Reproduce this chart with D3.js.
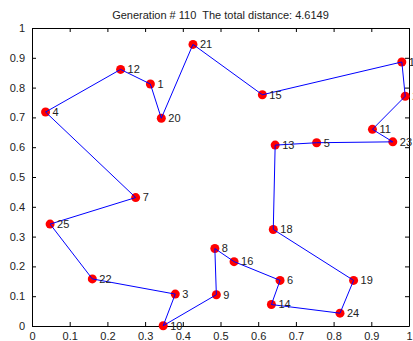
<!DOCTYPE html>
<html>
<head>
<meta charset="utf-8">
<script src="https://cdn.jsdelivr.net/npm/d3@7"></script>
<style>
  body { margin: 0; background: #fff; }
  svg { display: block; font-family: "Liberation Sans", Arial, sans-serif; }
</style>
</head>
<body>
<div id="chart"></div>
<script>
// city coordinates, index = city number - 1
const cityIds = d3.range(1, 26);
const cityX = [0.314, 0.990, 0.380, 0.036, 0.755, 0.658, 0.275, 0.485, 0.489, 0.348,
               0.903, 0.235, 0.645, 0.635, 0.611, 0.536, 0.981, 0.640, 0.853, 0.343,
               0.427, 0.160, 0.957, 0.817, 0.048];
const cityY = [0.812, 0.771, 0.107, 0.718, 0.615, 0.153, 0.431, 0.260, 0.105, 0.001,
               0.660, 0.861, 0.607, 0.072, 0.776, 0.216, 0.886, 0.324, 0.153, 0.697,
               0.945, 0.158, 0.618, 0.043, 0.342];
// visiting order of the best tour
const tour = [4, 12, 1, 20, 21, 15, 17, 2, 11, 23, 5, 13, 18, 19, 24, 14, 6, 16, 8, 9, 10, 3, 22, 25, 7, 4];
const ticks = d3.range(0, 11).map(i => i / 10);
const title = "Generation # 110  The total distance: 4.6149";

const W = 413, H = 341;
const margin = { top: 28, right: 4, bottom: 15, left: 32 };
const width = W - margin.left - margin.right;
const height = H - margin.top - margin.bottom;

const svg = d3.select('#chart').append('svg')
  .attr('width', W)
  .attr('height', H);

const g = svg.append('g')
  .attr('transform', `translate(${margin.left},${margin.top})`);

const x = d3.scaleLinear().domain([0, 1]).range([0, width]);
const y = d3.scaleLinear().domain([0, 1]).range([height, 0]);

const fmt = d => d === 0 || d === 1 ? d3.format('d')(d) : d3.format('.1f')(d);

// axes with inward ticks on all four sides
function styleAxis(sel) {
  sel.select('.domain').attr('stroke', '#000');
  sel.selectAll('.tick line').attr('stroke', '#000');
  sel.selectAll('text').attr('fill', '#222').style('font-size', '11px');
}

g.append('g')
  .attr('transform', `translate(0,${height})`)
  .call(d3.axisBottom(x).tickValues(ticks).tickFormat(fmt).tickSizeInner(-4).tickSizeOuter(0).tickPadding(6))
  .call(styleAxis);

g.append('g')
  .call(d3.axisLeft(y).tickValues(ticks).tickFormat(fmt).tickSizeInner(-4).tickSizeOuter(0).tickPadding(7))
  .call(styleAxis);

g.append('g')
  .call(d3.axisTop(x).tickValues(ticks).tickFormat('').tickSizeInner(-4).tickSizeOuter(0))
  .call(styleAxis);

g.append('g')
  .attr('transform', `translate(${width},0)`)
  .call(d3.axisRight(y).tickValues(ticks).tickFormat('').tickSizeInner(-4).tickSizeOuter(0))
  .call(styleAxis);

// markers
g.selectAll('.city')
  .data(cityIds)
  .enter().append('circle')
  .attr('class', 'city')
  .attr('cx', d => x(cityX[d - 1]))
  .attr('cy', d => y(cityY[d - 1]))
  .attr('r', 4.5)
  .attr('fill', '#ff0000');

// tour path
const line = d3.line()
  .x(d => x(cityX[d - 1]))
  .y(d => y(cityY[d - 1]));

g.append('path')
  .datum(tour)
  .attr('d', line)
  .attr('fill', 'none')
  .attr('stroke', '#0000ff')
  .attr('stroke-width', 1);

// city labels
g.selectAll('.lbl')
  .data(cityIds)
  .enter().append('text')
  .attr('class', 'lbl')
  .attr('x', d => x(cityX[d - 1]) + 7)
  .attr('y', d => y(cityY[d - 1]))
  .attr('dy', '0.35em')
  .style('font-size', '11px')
  .attr('fill', '#222')
  .text(d => d);

// title
svg.append('text')
  .attr('x', margin.left + width / 2)
  .attr('y', 19)
  .attr('text-anchor', 'middle')
  .style('font-size', '11px')
  .style('white-space', 'pre')
  .attr('fill', '#222')
  .text(title);
</script>
</body>
</html>
